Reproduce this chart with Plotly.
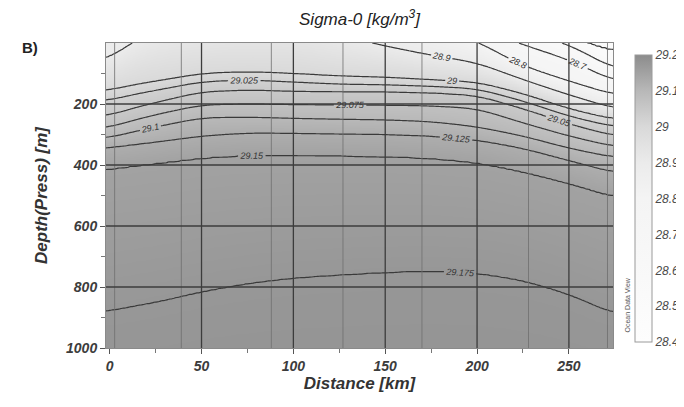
import numpy as np
import plotly.graph_objects as go

# ---------------- data ----------------
# distance nodes (km) at which the isopycnal depths were read
NODE_KM = [-2, 10, 25, 50, 75, 100, 125, 150, 175, 200, 225, 250, 275]
# contour levels (sigma-0, kg/m3)
LEVELS = [28.5, 28.6, 28.7, 28.8, 28.9, 29.0, 29.025, 29.05, 29.075, 29.1, 29.125, 29.15, 29.175]
# depth (m) of each isopycnal at the nodes (negative = outcropped above the surface)
D_28500 = [-600, -600, -600, -550, -500, -450, -400, -350, -300, -200, -100, -20, 30]
D_28600 = [-500, -500, -500, -450, -400, -350, -300, -250, -200, -120, -40, 5, 85]
D_28700 = [-400, -400, -400, -360, -320, -280, -240, -180, -120, -50, 5, 55, 125]
D_28800 = [-300, -300, -300, -270, -240, -210, -180, -120, -60, -5, 75, 125, 170]
D_28900 = [60, 5, -40, -60, -70, -70, -25, 10, 40, 65, 120, 170, 215]
D_29000 = [157, 140, 125, 100, 94, 100, 108, 112, 120, 128, 165, 215, 250]
D_29025 = [190, 172, 155, 127, 121, 128, 135, 137, 142, 150, 190, 240, 275]
D_29050 = [241, 218, 195, 160, 154, 158, 160, 160, 163, 172, 215, 265, 305]
D_29075 = [280, 258, 235, 203, 200, 202, 203, 204, 206, 215, 262, 305, 340]
D_29100 = [313, 295, 275, 245, 243, 247, 250, 252, 258, 275, 305, 345, 375]
D_29125 = [345, 335, 325, 305, 295, 296, 298, 300, 305, 318, 345, 385, 425]
D_29150 = [416, 405, 395, 377, 368, 368, 370, 372, 378, 392, 422, 460, 505]
D_29175 = [881, 865, 850, 815, 788, 770, 760, 752, 747, 754, 778, 823, 888]
ISO_DEPTHS = [D_28500, D_28600, D_28700, D_28800, D_28900, D_29000, D_29025,
              D_29050, D_29075, D_29100, D_29125, D_29150, D_29175]
# background anchors above the lightest / below the densest isopycnal
TOP_ANCHOR = (28.3, -1000)
BOTTOM_ANCHOR = (29.19, 1500)

STATIONS_KM = [2.7, 39, 88, 127, 170, 228, 271]
X_TICKS = [0, 50, 100, 150, 200, 250]
X_MINOR = [25, 75, 125, 175, 225]
Y_TICKS = [200, 400, 600, 800, 1000]
Y_MINOR = [100, 300, 500, 700, 900]
CB_TICKS = [28.4, 28.5, 28.6, 28.7, 28.8, 28.9, 29.0, 29.1, 29.2]
CB_TEXT = ["28.4", "28.5", "28.6", "28.7", "28.8", "28.9", "29", "29.1", "29.2"]

# ---------------- build the gridded section from the isopycnals ----------------
xg = np.arange(-2, 275.5, 1.0)
zg = np.arange(0, 1001, 5.0)
win = 21
kern = np.ones(win) / win
curves = []
for d in ISO_DEPTHS:
    c = np.interp(xg, NODE_KM, d)
    cp = np.pad(c, win // 2, mode="edge")
    curves.append(np.convolve(cp, kern, mode="valid"))
curves = np.array(curves)
lev = np.array([TOP_ANCHOR[0]] + LEVELS + [BOTTOM_ANCHOR[0]])
Z = np.zeros((len(zg), len(xg)))
for j in range(len(xg)):
    dep = np.concatenate([[TOP_ANCHOR[1]], curves[:, j], [BOTTOM_ANCHOR[1]]])
    dep = np.maximum.accumulate(dep + np.arange(len(dep)) * 1e-6)
    Z[:, j] = np.interp(zg, dep, lev)

FONT = "Liberation Sans"
colorscale = [
    [0.0, "#fdfdfd"], [0.5, "#f4f4f4"], [0.625, "#ebebeb"], [0.75, "#d9d9d9"],
    [0.875, "#b8b8b8"], [0.9375, "#a2a2a2"], [1.0, "#8c8c8c"],
]

fig = go.Figure()
fig.add_trace(go.Heatmap(
    x=xg, y=zg, z=Z, zmin=28.4, zmax=29.2, zsmooth="best",
    colorscale=colorscale, hoverinfo="skip", showlegend=False,
    colorbar=dict(
        x=1.0237, xanchor="left", xpad=10, y=0.49, yanchor="middle",
        lenmode="pixels", len=307, thickness=17,
        outlinecolor="#9a9a9a", outlinewidth=1,
        tickvals=CB_TICKS, ticktext=["<i>" + t + "</i>" for t in CB_TEXT], ticks="",
        tickfont=dict(family=FONT, size=12, color="#4a4a4a"),
    ),
))
label_font = dict(family=FONT, size=9, color="#333", style="italic")
fig.add_trace(go.Contour(
    x=xg, y=zg, z=Z, showscale=False, hoverinfo="skip", showlegend=False,
    contours=dict(start=29.0, end=29.176, size=0.025, coloring="none",
                  showlabels=True, labelfont=label_font),
    line=dict(color="#3a3a3a", width=1.2, smoothing=1.0),
))
fig.add_trace(go.Contour(
    x=xg, y=zg, z=Z, showscale=False, hoverinfo="skip", showlegend=False,
    contours=dict(start=28.5, end=28.91, size=0.1, coloring="none",
                  showlabels=True, labelfont=label_font),
    line=dict(color="#3a3a3a", width=1.2, smoothing=1.0),
))

shapes = []
for s in STATIONS_KM:
    shapes.append(dict(type="line", xref="x", yref="y", x0=s, x1=s, y0=0, y1=1000,
                       line=dict(color="#6e6e6e", width=0.8), layer="above"))
for v in X_TICKS[1:]:
    shapes.append(dict(type="line", xref="x", yref="y", x0=v, x1=v, y0=0, y1=1000,
                       line=dict(color="#3c3c3c", width=1.3), layer="above"))
for v in Y_TICKS[:-1]:
    shapes.append(dict(type="line", xref="x", yref="y", x0=-2, x1=275, y0=v, y1=v,
                       line=dict(color="#3c3c3c", width=1.3), layer="above"))

tickfont = dict(family=FONT, size=14, color="#3c3c3c")
axtitle = dict(family=FONT, size=17, color="#333", weight="bold", style="italic")

# the page body adds an 8 px margin, so the figure is sized / placed to compensate
fig.update_layout(
    width=676, height=399, showlegend=False,
    margin=dict(l=98, r=71, t=35, b=59, autoexpand=False),
    paper_bgcolor="white", plot_bgcolor="white",
    shapes=shapes,
    title=dict(text="Sigma-0 [kg/m<sup>3</sup>]", x=0.5, xref="paper", xanchor="center",
               y=0.972, yref="container", yanchor="middle",
               font=dict(family=FONT, size=17, color="#222", style="italic")),
    annotations=[
        dict(text="B)", xref="paper", yref="paper", x=-0.17, y=0.985, xanchor="left",
             yanchor="middle", showarrow=False,
             font=dict(family=FONT, size=15, color="#222", weight="bold")),
        dict(text="Ocean Data View", xref="paper", yref="paper", x=1.028, y=0.14,
             xanchor="center", yanchor="middle", textangle=-90, showarrow=False,
             font=dict(family=FONT, size=7, color="#555")),
    ],
    xaxis=dict(range=[-2, 274], tickvals=X_TICKS,
               ticktext=["<b><i>%d</i></b>" % v for v in X_TICKS],
               ticks="outside", ticklen=5,
               tickcolor="#555", showgrid=False, zeroline=False,
               showline=True, linecolor="#8a8a8a", mirror=True,
               minor=dict(tickvals=X_MINOR, ticks="outside", ticklen=4, tickcolor="#777"),
               tickfont=tickfont,
               title=dict(text="Distance [km]", font=axtitle, standoff=4)),
    yaxis=dict(range=[1000, 0], tickvals=Y_TICKS,
               ticktext=["<b><i>%d</i></b>" % v for v in Y_TICKS],
               ticks="outside", ticklen=5,
               tickcolor="#555", showgrid=False, zeroline=False,
               showline=True, linecolor="#8a8a8a", mirror=True,
               minor=dict(tickvals=Y_MINOR, ticks="outside", ticklen=4, tickcolor="#777"),
               tickfont=tickfont,
               title=dict(text="Depth(Press) [m]", font=axtitle, standoff=14)),
)

fig.write_html("out.html")
